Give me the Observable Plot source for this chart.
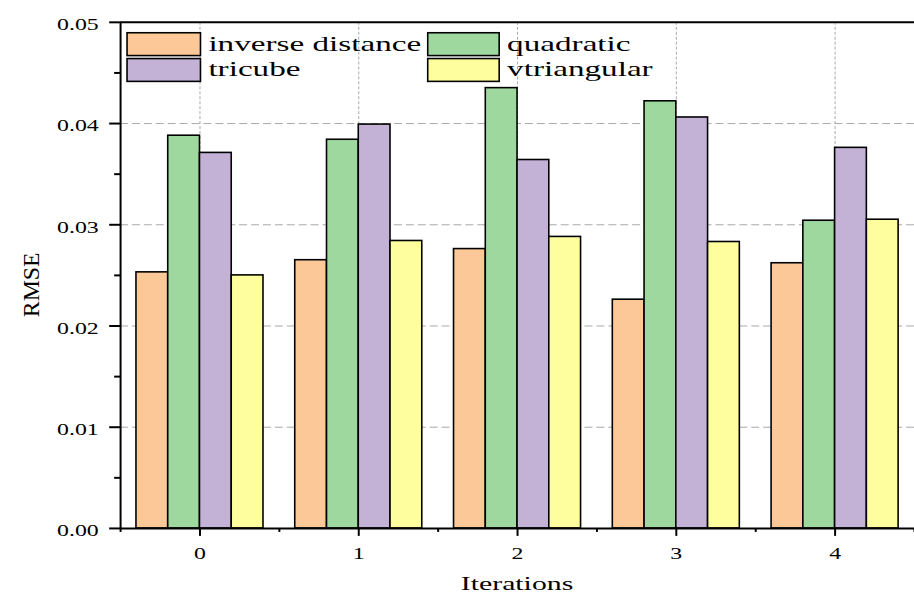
<!DOCTYPE html>
<html><head><meta charset="utf-8">
<script src="https://cdn.jsdelivr.net/npm/d3@7"></script>
<script src="https://cdn.jsdelivr.net/npm/@observablehq/plot@0.6"></script>
<style>
body{margin:0;background:#fff;}
#wrap{width:914px;height:597px;overflow:hidden;position:relative;background:#fff;}
</style></head><body><div id="wrap"></div>
<script>
const iterations = [0, 1, 2, 3, 4];
const seriesNames = ["inverse distance", "quadratic", "tricube", "vtriangular"];
const inverseDistance = [0.0253, 0.0265, 0.0276, 0.0226, 0.0262];
const quadratic = [0.0388, 0.0384, 0.0435, 0.0422, 0.0304];
const tricube = [0.0371, 0.0399, 0.0364, 0.0406, 0.0376];
const vtriangular = [0.0250, 0.0284, 0.0288, 0.0283, 0.0305];
const colors = ["#fdc897", "#9fd89e", "#c3b2d6", "#fffe9e"];
const yTicks = [0, 0.01, 0.02, 0.03, 0.04, 0.05];
const yMinorTicks = [0.005, 0.015, 0.025, 0.035, 0.045];
const xMinorTicks = [-0.5, 0.5, 1.5, 2.5, 3.5, 4.5];
const xTitle = "Iterations";
const yTitle = "RMSE";

const values = [inverseDistance, quadratic, tricube, vtriangular];
const data = [];
iterations.forEach((it, i) => seriesNames.forEach((s, k) => data.push({iteration: it, series: s, k, value: values[k][i]})));
const groupWidth = 0.8, barW = groupWidth / seriesNames.length;
const FONT = "'Liberation Serif', 'Times New Roman', serif";
const SX = 1.5;

const chart = Plot.plot({
  width: 921, height: 597,
  marginLeft: 121, marginRight: 0, marginTop: 22, marginBottom: 65,
  style: {fontFamily: FONT, fontSize: "16px", background: "#fff", color: "#000", overflow: "visible"},
  x: {domain: [-0.5, 4.5], axis: null, label: null},
  y: {domain: [0, 0.05], axis: null, label: null},
  color: {domain: seriesNames, range: colors},
  marks: [
    Plot.ruleY(yTicks.slice(1, -1), {stroke: "#a8a8a8", strokeDasharray: "8,4", strokeWidth: 1}),
    Plot.ruleX(iterations, {stroke: "#a8a8a8", strokeDasharray: "3,2", strokeWidth: 1}),
    Plot.rectY(data, {
      x1: d => d.iteration - groupWidth / 2 + d.k * barW,
      x2: d => d.iteration - groupWidth / 2 + (d.k + 1) * barW,
      y1: 0, y2: "value", fill: "series", stroke: "#000", strokeWidth: 1.6
    }),
    Plot.axisY(yTicks, {tickSize: 11, tickPadding: 11, tickFormat: d3.format(".2f"), strokeWidth: 2, fontSize: 16, label: null}),
    Plot.axisY(yMinorTicks, {tickSize: 6, tickFormat: () => "", strokeWidth: 2, label: null}),
    Plot.axisX(iterations, {tickSize: 8, tickPadding: 9, tickFormat: d => String(d), strokeWidth: 2, fontSize: 16, label: null}),
    Plot.axisX(xMinorTicks, {tickSize: 4, tickFormat: () => "", strokeWidth: 2, label: null}),
    Plot.ruleX([-0.5], {stroke: "#000", strokeWidth: 2}),
    Plot.ruleY([0], {stroke: "#000", strokeWidth: 2}),
    Plot.ruleY([0.05], {stroke: "#000", strokeWidth: 2})
  ]
});

// stretch tick labels horizontally like the reference
chart.querySelectorAll('g[aria-label$="tick label"]').forEach(g => {
  const isX = g.getAttribute("aria-label").startsWith("x");
  g.querySelectorAll("text").forEach(t => {
    let tr = t.getAttribute("transform") || "";
    if (t.hasAttribute("x") || t.hasAttribute("y")) {
      const x = +t.getAttribute("x") || 0, y = +t.getAttribute("y") || 0;
      t.removeAttribute("x"); t.removeAttribute("y");
      tr = `translate(${x},${y}) ` + tr;
    }
    t.setAttribute("transform", `translate(0,${isX ? 14 : 8}) ` + tr + ` scale(${SX},1)`);
  });
});

const svg = d3.select(chart);
// axis titles
svg.append("text").attr("transform", `translate(521,595) scale(${SX},1)`)
  .attr("text-anchor", "middle").attr("font-family", FONT).attr("font-size", 20).attr("fill", "#000").text(xTitle);
svg.append("text").attr("transform", `translate(39,287) rotate(-90)`)
  .attr("text-anchor", "middle").attr("font-family", FONT).attr("font-size", 24).attr("fill", "#000").text(yTitle);

// legend
const legendPos = [[128, 33, 74], [431, 33, 72], [128, 59, 74], [431, 59, 72]];
seriesNames.forEach((s, i) => {
  const [lx, ly, lw] = legendPos[i];
  svg.append("rect").attr("x", lx).attr("y", ly).attr("width", lw).attr("height", 23)
    .attr("fill", colors[i]).attr("stroke", "#000").attr("stroke-width", 1.6);
  svg.append("text").attr("transform", `translate(${lx + lw + 8},${ly + 18}) scale(1.52,1)`)
    .attr("text-anchor", "start")
    .attr("font-family", FONT).attr("font-size", 22).attr("fill", "#000").text(s);
});

document.getElementById("wrap").appendChild(chart);
</script></body></html>
